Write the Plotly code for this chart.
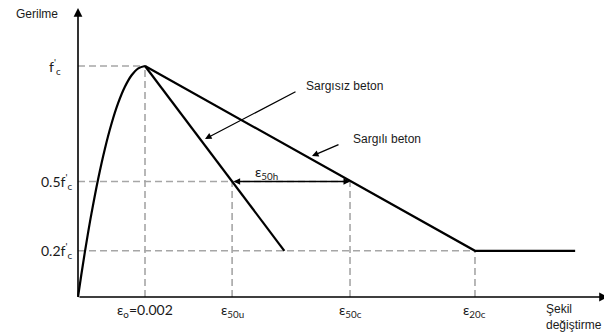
import plotly.graph_objects as go

# ---- data (strain, stress / f'c) ----
asc_strain = [0, 0.0001, 0.0002, 0.0003, 0.0004, 0.0006, 0.0008, 0.0010,
              0.0012, 0.0014, 0.0016, 0.0018, 0.0020]
asc_stress = [0, 0.0975, 0.19, 0.2775, 0.36, 0.51, 0.64, 0.75,
              0.84, 0.91, 0.96, 0.99, 1.0]
unconf_strain = [0.0020, 0.00616]
unconf_stress = [1.0, 0.2]
conf_strain = [0.0020, 0.01185, 0.01484]
conf_stress = [1.0, 0.2, 0.2]

eps_names = ["ε<sub>o</sub>=0.002", "ε<sub>50u</sub>", "ε<sub>50c</sub>", "ε<sub>20c</sub>"]
eps_values = [0.0020, 0.0046, 0.00812, 0.01185]
eps_stress = [1.0, 0.5, 0.5, 0.2]
stress_names = ["f<sup>'</sup><sub>c</sub>", "0.5f<sup>'</sup><sub>c</sub>", "0.2f<sup>'</sup><sub>c</sub>"]
stress_values = [1.0, 0.5, 0.2]
stress_label_right = [63, 74, 74]  # page px of label right edge
stress_dash_end = [0.0020, 0.00812, 0.01185]

# ---- geometry helpers (page pixels -> data) ----
S = 0.002 / 67.0
def X(px):
    return (px - 78) * S
def Y(py):
    return (297 - py) / 231.0

OFF = 8  # default page body margin

fig = go.Figure()

GRAY = "#a6a6a6"
for xv, yv in zip(eps_values, eps_stress):
    fig.add_trace(go.Scatter(x=[xv, xv], y=[0, yv], mode="lines",
                             line=dict(color=GRAY, width=1.6, dash="7px,4px"),
                             hoverinfo="skip", showlegend=False))
for yv, xe in zip(stress_values, stress_dash_end):
    fig.add_trace(go.Scatter(x=[0, xe], y=[yv, yv], mode="lines",
                             line=dict(color=GRAY, width=1.6, dash="7px,4px"),
                             hoverinfo="skip", showlegend=False))

fig.add_trace(go.Scatter(x=asc_strain, y=asc_stress, mode="lines", line_shape="spline",
                         line=dict(color="black", width=2.2), showlegend=False))
fig.add_trace(go.Scatter(x=unconf_strain, y=unconf_stress, mode="lines",
                         line=dict(color="black", width=2.2), showlegend=False))
fig.add_trace(go.Scatter(x=conf_strain, y=conf_stress, mode="lines",
                         line=dict(color="black", width=2.2), showlegend=False))

ann = []
ann.append(dict(x=0, y=Y(8), ax=0, ay=0, xref="x", yref="y", axref="x", ayref="y",
                showarrow=True, arrowhead=2, arrowsize=1.1, arrowwidth=1.6,
                arrowcolor="black", text=""))
ann.append(dict(x=X(608), y=0, ax=0, ay=0, xref="x", yref="y", axref="x", ayref="y",
                showarrow=True, arrowhead=2, arrowsize=1.1, arrowwidth=1.6,
                arrowcolor="black", text=""))
ann.append(dict(x=X(205), y=Y(139), ax=X(297), ay=Y(91), xref="x", yref="y",
                axref="x", ayref="y", showarrow=True, arrowhead=2, arrowsize=1.0,
                arrowwidth=1.3, arrowcolor="black", text=""))
ann.append(dict(x=X(312), y=Y(156), ax=X(340), ay=Y(144), xref="x", yref="y",
                axref="x", ayref="y", showarrow=True, arrowhead=2, arrowsize=1.0,
                arrowwidth=1.3, arrowcolor="black", text=""))
ann.append(dict(x=eps_values[2], y=0.5, ax=eps_values[1], ay=0.5, xref="x", yref="y",
                axref="x", ayref="y", showarrow=True, arrowhead=2, startarrowhead=2,
                arrowside="end+start", arrowsize=1.0, arrowwidth=1.3,
                arrowcolor="black", text=""))

CAL = "Lato, Carlito, sans-serif"
ARI = "Liberation Sans, Arial, sans-serif"
TXT = "#1a1a1a"

ann.append(dict(x=X(60), y=Y(14), xref="x", yref="y", text="Gerilme", showarrow=False,
                xanchor="right", yanchor="middle", font=dict(family=ARI, size=12, color=TXT)))
for name, yv, rx in zip(stress_names, stress_values, stress_label_right):
    ann.append(dict(x=X(rx), y=yv, xref="x", yref="y", text=name, showarrow=False,
                    xanchor="right", yanchor="middle", font=dict(family=CAL, size=14, color=TXT)))
for name, xv in zip(eps_names, eps_values):
    ann.append(dict(x=xv, y=Y(299), xref="x", yref="y", text=name, showarrow=False,
                    xanchor="center", yanchor="top", font=dict(family=CAL, size=14, color=TXT)))
ann.append(dict(x=X(266), y=Y(172), xref="x", yref="y", text="ε<sub>50h</sub>", showarrow=False,
                xanchor="center", yanchor="middle", font=dict(family=CAL, size=14, color=TXT)))
ann.append(dict(x=X(544), y=Y(300), xref="x", yref="y", text="Şekil<br>değiştirme",
                showarrow=False, xanchor="left", yanchor="top", align="left",
                font=dict(family=ARI, size=12, color=TXT)))
ann.append(dict(x=X(304), y=Y(86), xref="x", yref="y", text="Sargısız beton",
                showarrow=False, xanchor="left", yanchor="middle",
                font=dict(family=ARI, size=12, color=TXT)))
ann.append(dict(x=X(351), y=Y(139), xref="x", yref="y", text="Sargılı beton",
                showarrow=False, xanchor="left", yanchor="middle",
                font=dict(family=ARI, size=12, color=TXT)))

fig.update_layout(
    width=612 - OFF, height=333 - OFF,
    margin=dict(l=0, r=0, t=0, b=0),
    paper_bgcolor="white", plot_bgcolor="white",
    xaxis=dict(range=[X(OFF), X(612)], visible=False, fixedrange=True),
    yaxis=dict(range=[Y(333), Y(OFF)], visible=False, fixedrange=True),
    annotations=ann,
    showlegend=False,
)

fig.write_html("out.html")
